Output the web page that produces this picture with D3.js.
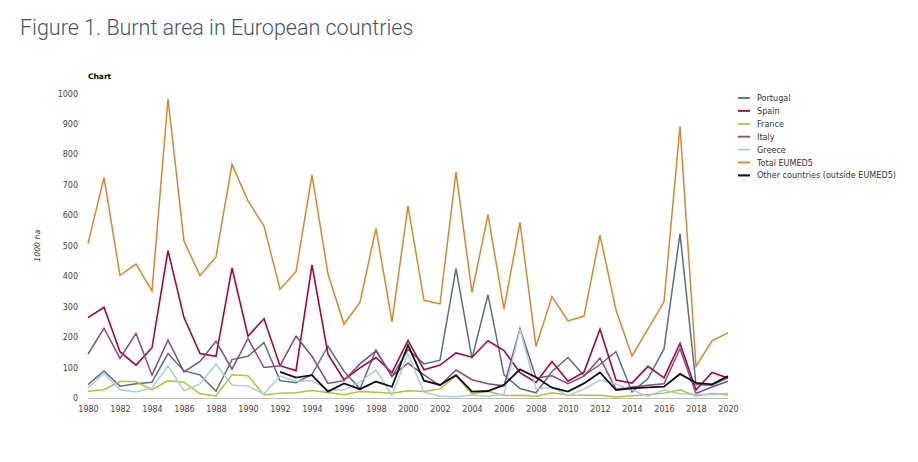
<!DOCTYPE html>
<html>
<head>
<meta charset="utf-8">
<script src="https://cdn.jsdelivr.net/npm/d3@7"></script>
<style>
  html, body { margin: 0; padding: 0; background: #fff; }
  svg { display: block; }
</style>
</head>
<body>
<svg id="chart" width="918" height="462"></svg>
<script>
const years = d3.range(1980, 2021);
const xTicks = d3.range(1980, 2021, 2);
const yTicks = [0, 100, 200, 300, 400, 500, 600, 700, 800, 900, 1000];

const portugal = [44, 89, 39, 47, 52, 146, 89, 76, 22, 126, 137, 182, 57, 50, 77, 170, 88, 30, 158, 70, 159, 112, 124, 425, 130, 339, 76, 31, 17, 87, 133, 74, 110, 152, 20, 64, 161, 540, 44, 42, 67];
const spain = [264, 298, 152, 108, 165, 484, 264, 146, 137, 427, 203, 260, 106, 90, 437, 144, 60, 99, 133, 83, 189, 93, 108, 148, 134, 188, 156, 83, 51, 120, 55, 85, 226, 59, 49, 104, 66, 179, 26, 84, 66];
const france = [22, 27, 55, 53, 27, 57, 52, 14, 7, 76, 73, 10, 16, 17, 25, 18, 11, 21, 19, 16, 24, 21, 30, 73, 13, 22, 8, 9, 6, 17, 10, 9, 9, 3, 7, 11, 16, 27, 7, 15, 10];
const italy = [144, 229, 130, 212, 75, 190, 86, 120, 186, 95, 195, 100, 106, 203, 137, 48, 57, 112, 155, 72, 114, 76, 41, 92, 60, 47, 40, 228, 66, 73, 47, 72, 131, 29, 36, 42, 47, 162, 15, 36, 55];
const greece = [33, 81, 27, 20, 33, 105, 24, 46, 111, 43, 39, 13, 72, 55, 57, 27, 26, 53, 92, 9, 145, 19, 6, 4, 10, 6, 12, 226, 29, 36, 8, 29, 59, 46, 26, 6, 26, 14, 12, 11, 16];
const totalEumed5 = [507, 724, 403, 440, 352, 982, 515, 402, 463, 767, 647, 565, 357, 415, 733, 407, 242, 315, 557, 250, 631, 321, 309, 742, 347, 602, 292, 577, 169, 333, 253, 269, 535, 289, 138, 227, 316, 892, 104, 188, 214];
const otherYears = d3.range(1992, 2021);
const other = [86, 67, 75, 21, 48, 29, 54, 37, 174, 57, 43, 75, 21, 23, 43, 94, 68, 34, 21, 48, 84, 26, 32, 35, 37, 79, 50, 45, 72];

const seriesNames = ["Portugal", "Spain", "France", "Italy", "Greece", "Total EUMED5", "Other countries (outside EUMED5)"];
const seriesColors = ["#5b6f7f", "#a8053f", "#b4c233", "#874b7f", "#a7cfd7", "#d6882c", "#111111"];

const series = [
  { name: seriesNames[0], color: seriesColors[0], w: 1.5, xs: years, ys: portugal },
  { name: seriesNames[1], color: seriesColors[1], w: 1.6, xs: years, ys: spain },
  { name: seriesNames[2], color: seriesColors[2], w: 1.5, xs: years, ys: france },
  { name: seriesNames[3], color: seriesColors[3], w: 1.5, xs: years, ys: italy },
  { name: seriesNames[4], color: seriesColors[4], w: 1.5, xs: years, ys: greece },
  { name: seriesNames[5], color: seriesColors[5], w: 1.5, xs: years, ys: totalEumed5 },
  { name: seriesNames[6], color: seriesColors[6], w: 1.8, xs: otherYears, ys: other }
];

const svg = d3.select("#chart");
const margin = { left: 88, right: 190, top: 93.5, bottom: 64 };
const W = 918, H = 462;

const x = d3.scaleLinear().domain([1980, 2020]).range([margin.left, W - margin.right]);
const y = d3.scaleLinear().domain([0, 1000]).range([H - margin.bottom, margin.top]);

// Title
svg.append("text")
  .attr("x", 20).attr("y", 35)
  .attr("font-family", "Roboto, sans-serif")
  .attr("font-weight", 300)
  .attr("font-size", 21.5)
  .attr("fill", "#44546a")
  .text("Figure 1. Burnt area in European countries");

svg.append("text")
  .attr("x", 88).attr("y", 79)
  .attr("font-family", "DejaVu Sans, Verdana, sans-serif")
  .attr("font-weight", "bold")
  .attr("font-size", 7.5)
  .attr("fill", "#000")
  .text("Chart");

// Y axis label
svg.append("text")
  .attr("transform", `translate(40, ${(y(0) + y(1000)) / 2}) rotate(-90)`)
  .attr("text-anchor", "middle")
  .attr("font-family", "DejaVu Sans, Verdana, sans-serif")
  .attr("font-style", "italic")
  .attr("font-size", 7.8)
  .attr("fill", "#333")
  .text("1000 ha");

// Y axis
const yAxis = svg.append("g")
  .attr("transform", `translate(${margin.left},0)`)
  .call(d3.axisLeft(y).tickValues(yTicks).tickSize(0).tickPadding(10).tickFormat(d3.format("d")));
yAxis.select(".domain").remove();
yAxis.selectAll("text")
  .attr("font-family", "DejaVu Sans, Verdana, sans-serif")
  .attr("font-size", 8)
  .attr("fill", "#444");

// X axis
const xAxis = svg.append("g")
  .attr("transform", `translate(0,${y(0)})`)
  .call(d3.axisBottom(x).tickValues(xTicks).tickSize(0).tickPadding(8).tickFormat(d3.format("d")));
xAxis.select(".domain").attr("stroke", "#bbbbbb").attr("stroke-width", 1.2);
xAxis.selectAll("text")
  .attr("font-family", "DejaVu Sans, Verdana, sans-serif")
  .attr("font-size", 8)
  .attr("fill", "#444");

// Lines
const line = d3.line().x(d => x(d[0])).y(d => y(d[1]));
series.forEach(s => {
  const pts = s.xs.map((yr, i) => [yr, s.ys[i]]);
  svg.append("path")
    .datum(pts)
    .attr("fill", "none")
    .attr("stroke", s.color)
    .attr("stroke-width", s.w)
    .attr("stroke-linejoin", "miter")
    .attr("d", line);
});

// Legend
const lg = svg.append("g").attr("transform", "translate(738, 98)");
series.forEach((s, i) => {
  const g = lg.append("g").attr("transform", `translate(0, ${i * 12.9})`);
  g.append("line")
    .attr("x1", 0).attr("x2", 12)
    .attr("y1", 0).attr("y2", 0)
    .attr("stroke", s.color)
    .attr("stroke-width", s.w + 0.3);
  g.append("text")
    .attr("x", 19).attr("y", 3)
    .attr("font-family", "DejaVu Sans, Verdana, sans-serif")
    .attr("font-size", 8.1)
    .attr("fill", "#333")
    .text(s.name);
});
</script>
</body>
</html>
